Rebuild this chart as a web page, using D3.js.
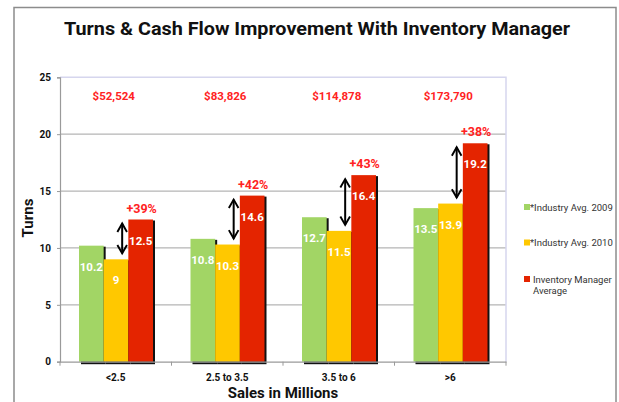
<!DOCTYPE html>
<html>
<head>
<meta charset="utf-8">
<script src="https://cdn.jsdelivr.net/npm/d3@7"></script>
<style>
  body { margin: 0; background: #fff; }
  text { font-family: Roboto, "Open Sans", sans-serif; }
</style>
</head>
<body>
<div id="chart"></div>
<script>
// data
const categories = ["<2.5", "2.5 to 3.5", "3.5 to 6", ">6"]
const seriesNames = ["*Industry Avg. 2009", "*Industry Avg. 2010", "Inventory Manager Average"]
const industry2009 = [10.2, 10.8, 12.7, 13.5]
const industry2010 = [9, 10.3, 11.5, 13.9]
const managerAvg = [12.5, 14.6, 16.4, 19.2]
const improvement = ["+39%", "+42%", "+43%", "+38%"]
const cashFlow = ["$52,524", "$83,826", "$114,878", "$173,790"]
const yTicks = [0, 5, 10, 15, 20, 25]

const colors = ["#a2d565", "#ffc800", "#e42400"]
const width = 619
const height = 402
const plot = { left: 60, right: 506, top: 77.3, bottom: 361.7 }
const boldFont = "Roboto, sans-serif"

const svg = d3.select("#chart")
  .append("svg")
  .attr("width", width)
  .attr("height", height)

svg.append("rect").attr("width", width).attr("height", height).attr("fill", "#fff")

// outer frame
svg.append("rect")
  .attr("x", 14).attr("y", 7.5)
  .attr("width", 602).attr("height", 420)
  .attr("fill", "none")
  .attr("stroke", "#8c8c8c")
  .attr("stroke-width", 1.5)

svg.append("text")
  .attr("x", 317).attr("y", 35)
  .attr("text-anchor", "middle")
  .attr("font-family", boldFont)
  .attr("font-size", "18px")
  .attr("font-weight", "bold")
  .attr("textLength", 506)
  .attr("lengthAdjust", "spacingAndGlyphs")
  .attr("fill", "#111")
  .text("Turns & Cash Flow Improvement With Inventory Manager")

const y = d3.scaleLinear().domain([0, 25]).range([plot.bottom, plot.top])
const x = d3.scaleBand().domain(categories).range([plot.left, plot.right])
const x1 = d3.scaleBand().domain(d3.range(3)).range([19, 93])

// gridlines
svg.append("g")
  .selectAll("line")
  .data(yTicks.filter(d => d > 0 && d < 25))
  .join("line")
  .attr("x1", plot.left).attr("x2", plot.right)
  .attr("y1", d => y(d)).attr("y2", d => y(d))
  .attr("stroke", "#b5b5b5")
  .attr("stroke-width", 1.2)

// plot frame top / right
svg.append("path")
  .attr("d", `M${plot.left},${y(25)}H${plot.right}V${plot.bottom}`)
  .attr("fill", "none")
  .attr("stroke", "#d6d6ee")
  .attr("stroke-width", 1.5)

// y axis
const yAxis = svg.append("g")
  .attr("transform", `translate(${plot.left},0)`)
  .call(d3.axisLeft(y).tickValues(yTicks).tickSize(3).tickPadding(6))
yAxis.select(".domain").attr("stroke", "#9a9a9a").attr("stroke-width", 1.2)
yAxis.selectAll(".tick line").attr("stroke", "#9a9a9a")
yAxis.selectAll("text")
  .attr("font-family", boldFont)
  .attr("font-size", "10px")
  .attr("font-weight", "bold")
  .attr("fill", "#111")

// bars
const rows = categories.map((c, i) => ({
  cat: c,
  vals: [industry2009[i], industry2010[i], managerAvg[i]]
}))

const groups = svg.append("g")
  .selectAll("g")
  .data(rows)
  .join("g")
  .attr("transform", d => `translate(${x(d.cat)},0)`)

// shadows first
groups.selectAll(".shadow")
  .data(d => d.vals)
  .join("rect")
  .attr("class", "shadow")
  .attr("x", (d, i) => x1(i) + 2)
  .attr("y", d => y(d) + 1)
  .attr("width", x1.bandwidth())
  .attr("height", d => y(0) - y(d) + 1.5)
  .attr("fill", "#111")

groups.selectAll(".bar")
  .data(d => d.vals)
  .join("rect")
  .attr("class", "bar")
  .attr("x", (d, i) => x1(i))
  .attr("y", d => y(d))
  .attr("width", x1.bandwidth())
  .attr("height", d => y(0) - y(d))
  .attr("fill", (d, i) => colors[i])

groups.selectAll(".val")
  .data(d => d.vals)
  .join("text")
  .attr("class", "val")
  .attr("x", (d, i) => x1(i) + x1.bandwidth() / 2)
  .attr("y", d => y(d) + 22)
  .attr("text-anchor", "middle")
  .attr("dominant-baseline", "middle")
  .attr("font-family", boldFont)
  .attr("font-size", "11.5px")
  .attr("font-weight", "bold")
  .attr("fill", "#fff")
  .text(d => d)

// x axis
const xAxis = svg.append("g")
  .attr("transform", `translate(0,${plot.bottom})`)
  .call(d3.axisBottom(x).tickSize(0).tickPadding(12))
xAxis.select(".domain").attr("stroke", "#9a9a9a").attr("stroke-width", 1.2)
xAxis.selectAll("text")
  .attr("font-family", boldFont)
  .attr("font-size", "10px")
  .attr("font-weight", "bold")
  .attr("fill", "#111")
xAxis.selectAll(".sep")
  .data(d3.range(categories.length + 1))
  .join("line")
  .attr("class", "sep")
  .attr("x1", i => plot.left + i * x.bandwidth())
  .attr("x2", i => plot.left + i * x.bandwidth())
  .attr("y1", 0).attr("y2", 4)
  .attr("stroke", "#9a9a9a")

// arrows between 2010 and manager average
const defs = svg.append("defs")
defs.append("marker")
  .attr("id", "ah")
  .attr("viewBox", "0 0 10 10")
  .attr("refX", 8).attr("refY", 5)
  .attr("markerWidth", 6).attr("markerHeight", 6)
  .attr("orient", "auto-start-reverse")
  .append("path")
  .attr("d", "M1,1L8,5L1,9")
  .attr("fill", "none")
  .attr("stroke", "#000")
  .attr("stroke-width", 1.6)

groups.append("line")
  .attr("x1", x1(1) + x1.bandwidth() * 0.75)
  .attr("x2", x1(1) + x1.bandwidth() * 0.75)
  .attr("y1", d => y(d.vals[2]) + 4)
  .attr("y2", d => y(d.vals[1]) - 6)
  .attr("stroke", "#000")
  .attr("stroke-width", 2)
  .attr("marker-start", "url(#ah)")
  .attr("marker-end", "url(#ah)")

groups.append("text")
  .attr("x", x1(2) + x1.bandwidth() / 2 + 1)
  .attr("y", d => y(d.vals[2]) - 7)
  .attr("text-anchor", "middle")
  .attr("font-family", boldFont)
  .attr("font-size", "12.5px")
  .attr("font-weight", "bold")
  .attr("fill", "#ff2222")
  .text((d, i) => improvement[i])

groups.append("text")
  .attr("x", x.bandwidth() / 2 - 2)
  .attr("y", 100)
  .attr("text-anchor", "middle")
  .attr("font-family", boldFont)
  .attr("font-size", "11.5px")
  .attr("font-weight", "bold")
  .attr("fill", "#ff2222")
  .text((d, i) => cashFlow[i])

// axis titles
svg.append("text")
  .attr("transform", "translate(33,218) rotate(-90)")
  .attr("text-anchor", "middle")
  .attr("font-family", boldFont)
  .attr("font-size", "15px")
  .attr("font-weight", "bold")
  .attr("fill", "#111")
  .text("Turns")

svg.append("text")
  .attr("x", 283).attr("y", 398)
  .attr("text-anchor", "middle")
  .attr("font-family", boldFont)
  .attr("font-size", "15px")
  .attr("font-weight", "bold")
  .attr("fill", "#111")
  .text("Sales in Millions")

// legend
const legendY = [207, 242.5, 279]
const legend = svg.append("g")
  .selectAll("g")
  .data(seriesNames)
  .join("g")
  .attr("transform", (d, i) => `translate(524,${legendY[i]})`)

legend.append("rect")
  .attr("x", 0).attr("y", -3)
  .attr("width", 6).attr("height", 6)
  .attr("fill", (d, i) => colors[i])

legend.append("text")
  .attr("x", 6)
  .attr("y", 3.5)
  .attr("font-family", "Lato, sans-serif")
  .attr("font-size", "9.5px")
  .attr("fill", "#333")
  .each(function(d, i) {
    const t = d3.select(this)
    if (i === 2) {
      t.append("tspan").attr("x", 9).text("Inventory Manager")
      t.append("tspan").attr("x", 9).attr("dy", 11).text("Average")
    } else {
      t.text(d)
    }
  })
</script>
</body>
</html>
